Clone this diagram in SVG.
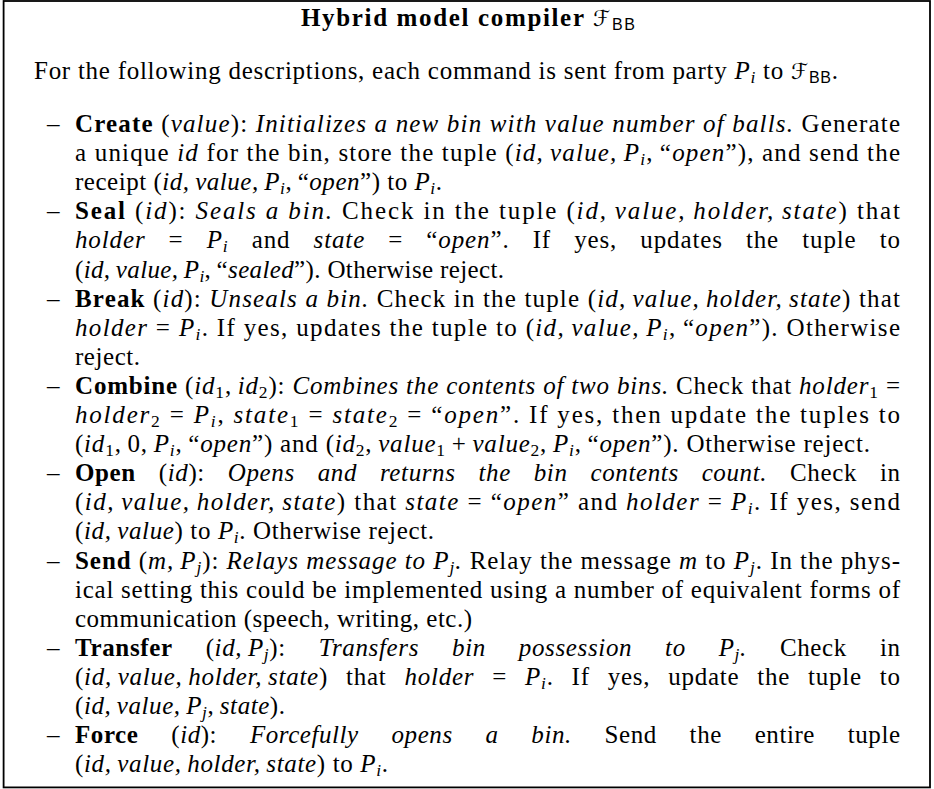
<svg xmlns="http://www.w3.org/2000/svg" width="934" height="789" viewBox="0 0 934 789">
<style>
.tx{font-family:"Liberation Serif","Times New Roman",serif;font-size:25px;fill:#000}
.b{font-weight:bold}
.i{font-style:italic}
.sb{font-size:17.5px;font-style:italic}
.sn{font-size:17.5px}
.cal{font-family:"DejaVu Serif","DejaVu Sans",serif;font-style:normal;font-weight:normal;font-size:22px}
.ss{font-family:"Liberation Sans",Arial,sans-serif;font-size:16px;font-weight:normal;font-style:normal}
.frame{fill:#fff;stroke:#000;stroke-width:1.8}
</style>
<rect class="frame" x="3.6" y="1" width="926.4" height="786.4"/>
<g id="title">
<text class="tx b" x="301" y="26" textLength="334" lengthAdjust="spacing">Hybrid model compiler <tspan class="cal">ℱ</tspan><tspan class="ss" dy="4">BB</tspan></text>
</g>
<g id="intro">
<text class="tx" x="34" y="79" textLength="804" lengthAdjust="spacing">For the following descriptions, each command is sent from party <tspan class="i">P</tspan><tspan class="sb" dy="4">i</tspan><tspan dy="-4"> to </tspan><tspan class="cal">ℱ</tspan><tspan class="ss" dy="4">BB</tspan><tspan dy="-4">.</tspan></text>
</g>
<g id="item-create">
<text class="tx" x="47" y="132">&#8211;</text>
<text class="tx" x="75" y="132" textLength="825" lengthAdjust="spacing"><tspan class="b">Create</tspan> (<tspan class="i">value</tspan>): <tspan class="i">Initializes a new bin with value number of balls.</tspan> Generate</text>
<text class="tx" x="75" y="161.1" textLength="825" lengthAdjust="spacing">a unique <tspan class="i">id</tspan> for the bin, store the tuple (<tspan class="i">id,&#8201;value,&#8201;P</tspan><tspan class="sb" dy="4">i</tspan><tspan dy="-4">,&#8201;&#8220;</tspan><tspan class="i">open</tspan>&#8221;), and send the</text>
<text class="tx" x="75" y="190.2" textLength="367" lengthAdjust="spacing">receipt (<tspan class="i">id,&#8201;value,&#8201;P</tspan><tspan class="sb" dy="4">i</tspan><tspan dy="-4">,&#8201;&#8220;</tspan><tspan class="i">open</tspan>&#8221;) to <tspan class="i">P</tspan><tspan class="sb" dy="4">i</tspan><tspan dy="-4">.</tspan></text>
</g>
<g id="item-seal">
<text class="tx" x="47" y="219.3">&#8211;</text>
<text class="tx" x="75" y="219.3" textLength="825" lengthAdjust="spacing"><tspan class="b">Seal</tspan> (<tspan class="i">id</tspan>): <tspan class="i">Seals a bin.</tspan> Check in the tuple (<tspan class="i">id,&#8201;value,&#8201;holder,&#8201;state</tspan>) that</text>
<text class="tx" x="75" y="248.4" textLength="825" lengthAdjust="spacing" style="word-spacing:16px"><tspan class="i">holder</tspan> = <tspan class="i">P</tspan><tspan class="sb" dy="4">i</tspan><tspan dy="-4"> and </tspan><tspan class="i">state</tspan> = &#8220;<tspan class="i">open</tspan>&#8221;. If yes, updates the tuple to</text>
<text class="tx" x="75" y="277.5" textLength="429" lengthAdjust="spacing">(<tspan class="i">id,&#8201;value,&#8201;P</tspan><tspan class="sb" dy="4">i</tspan><tspan dy="-4">,&#8201;&#8220;</tspan><tspan class="i">sealed</tspan>&#8221;). Otherwise reject.</text>
</g>
<g id="item-break">
<text class="tx" x="47" y="306.6">&#8211;</text>
<text class="tx" x="75" y="306.6" textLength="825" lengthAdjust="spacing"><tspan class="b">Break</tspan> (<tspan class="i">id</tspan>): <tspan class="i">Unseals a bin.</tspan> Check in the tuple (<tspan class="i">id,&#8201;value,&#8201;holder,&#8201;state</tspan>) that</text>
<text class="tx" x="75" y="335.7" textLength="825" lengthAdjust="spacing"><tspan class="i">holder</tspan> = <tspan class="i">P</tspan><tspan class="sb" dy="4">i</tspan><tspan dy="-4">. If yes, updates the tuple to (</tspan><tspan class="i">id,&#8201;value,&#8201;P</tspan><tspan class="sb" dy="4">i</tspan><tspan dy="-4">,&#8201;&#8220;</tspan><tspan class="i">open</tspan>&#8221;). Otherwise</text>
<text class="tx" x="75" y="364.8" textLength="65" lengthAdjust="spacing">reject.</text>
</g>
<g id="item-combine">
<text class="tx" x="47" y="393.9">&#8211;</text>
<text class="tx" x="75" y="393.9" textLength="825" lengthAdjust="spacing"><tspan class="b">Combine</tspan> (<tspan class="i">id</tspan><tspan class="sn" dy="4">1</tspan><tspan dy="-4">,&#8201;</tspan><tspan class="i">id</tspan><tspan class="sn" dy="4">2</tspan><tspan dy="-4">): </tspan><tspan class="i">Combines the contents of two bins.</tspan> Check that <tspan class="i">holder</tspan><tspan class="sn" dy="4">1</tspan><tspan dy="-4"> =</tspan></text>
<text class="tx" x="75" y="423" textLength="825" lengthAdjust="spacing"><tspan class="i">holder</tspan><tspan class="sn" dy="4">2</tspan><tspan dy="-4"> = </tspan><tspan class="i">P</tspan><tspan class="sb" dy="4">i</tspan><tspan dy="-4">, </tspan><tspan class="i">state</tspan><tspan class="sn" dy="4">1</tspan><tspan dy="-4"> = </tspan><tspan class="i">state</tspan><tspan class="sn" dy="4">2</tspan><tspan dy="-4"> = &#8220;</tspan><tspan class="i">open</tspan>&#8221;. If yes, then update the tuples to</text>
<text class="tx" x="75" y="452.1" textLength="795" lengthAdjust="spacing">(<tspan class="i">id</tspan><tspan class="sn" dy="4">1</tspan><tspan dy="-4">,&#8201;0,&#8201;</tspan><tspan class="i">P</tspan><tspan class="sb" dy="4">i</tspan><tspan dy="-4">,&#8201;&#8220;</tspan><tspan class="i">open</tspan>&#8221;) and (<tspan class="i">id</tspan><tspan class="sn" dy="4">2</tspan><tspan dy="-4">,&#8201;</tspan><tspan class="i">value</tspan><tspan class="sn" dy="4">1</tspan><tspan dy="-4">&#8201;+&#8201;</tspan><tspan class="i">value</tspan><tspan class="sn" dy="4">2</tspan><tspan dy="-4">,&#8201;</tspan><tspan class="i">P</tspan><tspan class="sb" dy="4">i</tspan><tspan dy="-4">,&#8201;&#8220;</tspan><tspan class="i">open</tspan>&#8221;). Otherwise reject.</text>
</g>
<g id="item-open">
<text class="tx" x="47" y="481.2">&#8211;</text>
<text class="tx" x="75" y="481.2" textLength="825" lengthAdjust="spacing" style="word-spacing:16px"><tspan class="b">Open</tspan> (<tspan class="i">id</tspan>): <tspan class="i">Opens and returns the bin contents count.</tspan> Check in</text>
<text class="tx" x="75" y="510.3" textLength="825" lengthAdjust="spacing">(<tspan class="i">id,&#8201;value,&#8201;holder,&#8201;state</tspan>) that <tspan class="i">state</tspan> = &#8220;<tspan class="i">open</tspan>&#8221; and <tspan class="i">holder</tspan> = <tspan class="i">P</tspan><tspan class="sb" dy="4">i</tspan><tspan dy="-4">. If yes, send</tspan></text>
<text class="tx" x="75" y="539.4" textLength="359" lengthAdjust="spacing">(<tspan class="i">id,&#8201;value</tspan>) to <tspan class="i">P</tspan><tspan class="sb" dy="4">i</tspan><tspan dy="-4">. Otherwise reject.</tspan></text>
</g>
<g id="item-send">
<text class="tx" x="47" y="568.5">&#8211;</text>
<text class="tx" x="75" y="568.5" textLength="825" lengthAdjust="spacing"><tspan class="b">Send</tspan> (<tspan class="i">m,&#8201;P</tspan><tspan class="sb" dy="4">j</tspan><tspan dy="-4">): </tspan><tspan class="i">Relays message to P</tspan><tspan class="sb" dy="4">j</tspan><tspan dy="-4" class="i">.</tspan> Relay the message <tspan class="i">m</tspan> to <tspan class="i">P</tspan><tspan class="sb" dy="4">j</tspan><tspan dy="-4">. In the phys-</tspan></text>
<text class="tx" x="75" y="597.6" textLength="825" lengthAdjust="spacing">ical setting this could be implemented using a number of equivalent forms of</text>
<text class="tx" x="75" y="626.7" textLength="397" lengthAdjust="spacing">communication (speech, writing, etc.)</text>
</g>
<g id="item-transfer">
<text class="tx" x="47" y="655.8">&#8211;</text>
<text class="tx" x="75" y="655.8" textLength="825" lengthAdjust="spacing" style="word-spacing:26px"><tspan class="b">Transfer</tspan> (<tspan class="i">id,&#8201;P</tspan><tspan class="sb" dy="4">j</tspan><tspan dy="-4">): </tspan><tspan class="i">Transfers bin possession to P</tspan><tspan class="sb" dy="4">j</tspan><tspan dy="-4" class="i">.</tspan> Check in</text>
<text class="tx" x="75" y="684.9" textLength="825" lengthAdjust="spacing" style="word-spacing:11px">(<tspan class="i">id,&#8201;value,&#8201;holder,&#8201;state</tspan>) that <tspan class="i">holder</tspan> = <tspan class="i">P</tspan><tspan class="sb" dy="4">i</tspan><tspan dy="-4">. If yes, update the tuple to</tspan></text>
<text class="tx" x="75" y="714" textLength="210" lengthAdjust="spacing">(<tspan class="i">id,&#8201;value,&#8201;P</tspan><tspan class="sb" dy="4">j</tspan><tspan dy="-4">,&#8201;</tspan><tspan class="i">state</tspan>).</text>
</g>
<g id="item-force">
<text class="tx" x="47" y="743.1">&#8211;</text>
<text class="tx" x="75" y="743.1" textLength="825" lengthAdjust="spacing" style="word-spacing:26px"><tspan class="b">Force</tspan> (<tspan class="i">id</tspan>): <tspan class="i">Forcefully opens a bin.</tspan> Send the entire tuple</text>
<text class="tx" x="75" y="772.2" textLength="313" lengthAdjust="spacing">(<tspan class="i">id,&#8201;value,&#8201;holder,&#8201;state</tspan>) to <tspan class="i">P</tspan><tspan class="sb" dy="4">i</tspan><tspan dy="-4">.</tspan></text>
</g>
</svg>
